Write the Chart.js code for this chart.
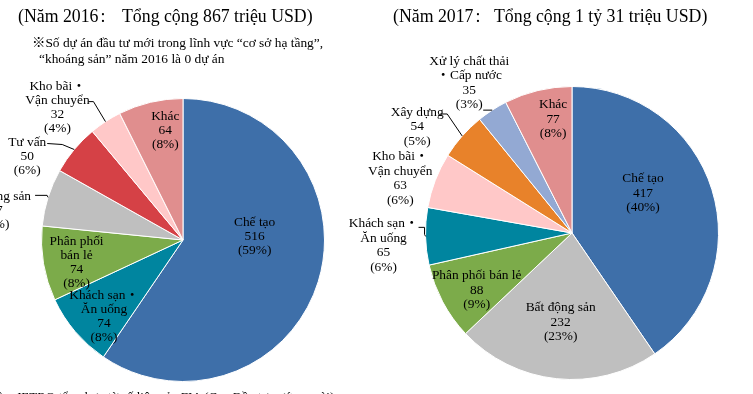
<!DOCTYPE html>
<html>
<head>
<meta charset="utf-8">
<script src="https://cdn.jsdelivr.net/npm/chart.js@4.4.0/dist/chart.umd.min.js"></script>
<style>
  body { margin: 0; width: 753px; height: 394px; overflow: hidden; background: #fff; position: relative;
         font-family: "Liberation Serif", "Noto Sans CJK JP", serif; color: #000; }
  .box { position: absolute; top: 0; height: 394px; }
  #leftBox { left: 0; width: 376px; }
  #rightBox { left: 336px; width: 417px; }
  .txt { position: absolute; white-space: nowrap; }
  .title { font-size: 17.8px; line-height: 20px; top: 6px; }
  .note { font-size: 13.4px; line-height: 16px; }
</style>
</head>
<body>
<div class="box" id="leftBox"><canvas id="chart2016" width="376" height="394"></canvas></div>
<div class="box" id="rightBox"><canvas id="chart2017" width="417" height="394"></canvas></div>

<div class="txt title" style="left:18px">(Năm 2016<span style="margin-left:2px">:</span></div>
<div class="txt title" style="left:122px">Tổng cộng 867 triệu USD)</div>
<div class="txt title" style="left:393px">(Năm 2017<span style="margin-left:2px">:</span></div>
<div class="txt title" style="left:494px">Tổng cộng 1 tỷ 31 triệu USD)</div>
<div class="txt note" style="left:32px;top:35px">※Số dự án đầu tư mới trong lĩnh vực “cơ sở hạ tầng”,</div>
<div class="txt note" style="left:39px;top:51px">“khoáng sản” năm 2016 là 0 dự án</div>
<div class="txt note" style="left:-26px;top:389px;font-size:13px">Nguồn: JETRO tổng hợp từ số liệu của FIA (Cục Đầu tư nước ngoài)</div>

<script>
'use strict';

// Năm 2016
const cats2016 = ['Chế tạo', 'Khách sạn・Ăn uống', 'Phân phối bán lẻ', 'Bất động sản', 'Tư vấn', 'Kho bãi・Vận chuyển', 'Khác'];
const vals2016 = [516, 74, 74, 57, 50, 32, 64];
const pct2016 = ['59%', '8%', '8%', '7%', '6%', '4%', '8%'];
const lines2016 = [['Chế tạo'], ['Khách sạn・', 'Ăn uống'], ['Phân phối', 'bán lẻ'], ['Bất động sản'], ['Tư vấn'], ['Kho bãi・', 'Vận chuyển'], ['Khác']];

// Năm 2017
const cats2017 = ['Chế tạo', 'Bất động sản', 'Phân phối bán lẻ', 'Khách sạn・Ăn uống', 'Kho bãi・Vận chuyển', 'Xây dựng', 'Xử lý chất thải・Cấp nước', 'Khác'];
const vals2017 = [417, 232, 88, 65, 63, 54, 35, 77];
const pct2017 = ['40%', '23%', '9%', '6%', '6%', '5%', '3%', '8%'];
const lines2017 = [['Chế tạo'], ['Bất động sản'], ['Phân phối bán lẻ'], ['Khách sạn・', 'Ăn uống'], ['Kho bãi・', 'Vận chuyển'], ['Xây dựng'], ['Xử lý chất thải', '・Cấp nước'], ['Khác']];

// colores por sector
const COL = {
  'Chế tạo': '#3E6FA9',
  'Khách sạn・Ăn uống': '#00859F',
  'Phân phối bán lẻ': '#7CAB4A',
  'Bất động sản': '#BFBFBF',
  'Tư vấn': '#D54146',
  'Kho bãi・Vận chuyển': '#FFC8C8',
  'Xây dựng': '#E8822A',
  'Xử lý chất thải・Cấp nước': '#93A9D3',
  'Khác': '#E08E8E'
};

// posición de las etiquetas: f = fracción del radio sobre el ángulo medio, dx/dy = ajuste, lead = línea guía desde el borde
const place2016 = [
  { f: 0.5, dx: 4, dy: -24 },
  { f: 0.77, dx: 4, dy: 6 },
  { f: 0.77, dx: 1, dy: 4 },
  { f: 1, dx: -52, dy: 13, lead: [[-1, -2], [-13, -2]] },
  { f: 1, dx: -47, dy: 7, lead: [[-12, -5], [-27, -6]] },
  { f: 1, dx: -48, dy: -14, lead: [[-12, -20], [-17, -20]] },
  { f: 0.79, dx: 8, dy: -1 }
];
const place2017 = [
  { f: 0.55, dx: -6, dy: -16 },
  { f: 0.6, dx: -2, dy: 2 },
  { f: 0.76, dx: 3, dy: 5 },
  { f: 1, dx: -42, dy: 9, lead: [[-1, -2], [-1, -9], [-7, -9]] },
  { f: 1, dx: -35, dy: -2 },
  { f: 1, dx: -45, dy: -9.5, lead: [[-15, -22], [-22, -22]] },
  { f: 1, dx: -23, dy: -27, lead: [[-9, 0]] },
  { f: 0.79, dx: 8, dy: -1 }
];

const sliceLabels = {
  id: 'sliceLabels',
  afterDatasetsDraw(chart, args, opts) {
    const ctx = chart.ctx;
    const meta = chart.getDatasetMeta(0);
    const vals = chart.data.datasets[0].data;
    ctx.save();
    ctx.font = '13.4px "Liberation Serif", "Noto Sans CJK JP", serif';
    ctx.fillStyle = '#000';
    ctx.strokeStyle = '#000';
    ctx.lineWidth = 1;
    ctx.textAlign = 'center';
    ctx.textBaseline = 'middle';
    meta.data.forEach((arc, i) => {
      const p = arc.getProps(['x', 'y', 'startAngle', 'endAngle', 'outerRadius'], true);
      const mid = (p.startAngle + p.endAngle) / 2;
      const cs = Math.cos(mid), sn = Math.sin(mid);
      const pl = opts.place[i];
      const ex = p.x + p.outerRadius * cs, ey = p.y + p.outerRadius * sn;
      if (pl.lead) {
        ctx.beginPath();
        ctx.moveTo(ex, ey);
        pl.lead.forEach(pt => ctx.lineTo(ex + pt[0], ey + pt[1]));
        ctx.stroke();
      }
      const cx = p.x + pl.f * p.outerRadius * cs + pl.dx;
      const cy = p.y + pl.f * p.outerRadius * sn + pl.dy;
      const lines = opts.lines[i].concat([String(vals[i]), '(' + opts.pct[i] + ')']);
      const lh = opts.lineHeight;
      const y0 = cy - (lines.length - 1) * lh / 2;
      lines.forEach((t, k) => ctx.fillText(t, cx, y0 + k * lh));
    });
    ctx.restore();
  }
};

function makePie(id, cats, vals, pct, lines, place, padding, lineHeight) {
  return new Chart(document.getElementById(id), {
    type: 'pie',
    data: {
      labels: cats,
      datasets: [{
        data: vals,
        backgroundColor: cats.map(c => COL[c]),
        borderColor: '#ffffff',
        borderWidth: 1
      }]
    },
    options: {
      responsive: false,
      animation: false,
      layout: { padding: padding },
      plugins: {
        legend: { display: false },
        tooltip: { enabled: false },
        sliceLabels: { lines: lines, pct: pct, place: place, lineHeight: lineHeight }
      }
    },
    plugins: [sliceLabels]
  });
}

makePie('chart2016', cats2016, vals2016, pct2016, lines2016, place2016,
  { left: 41, right: 51, top: 98, bottom: 12 }, 14);
makePie('chart2017', cats2017, vals2017, pct2017, lines2017, place2017,
  { left: 89, right: 34, top: 86, bottom: 14 }, 14.5);
</script>
</body>
</html>
